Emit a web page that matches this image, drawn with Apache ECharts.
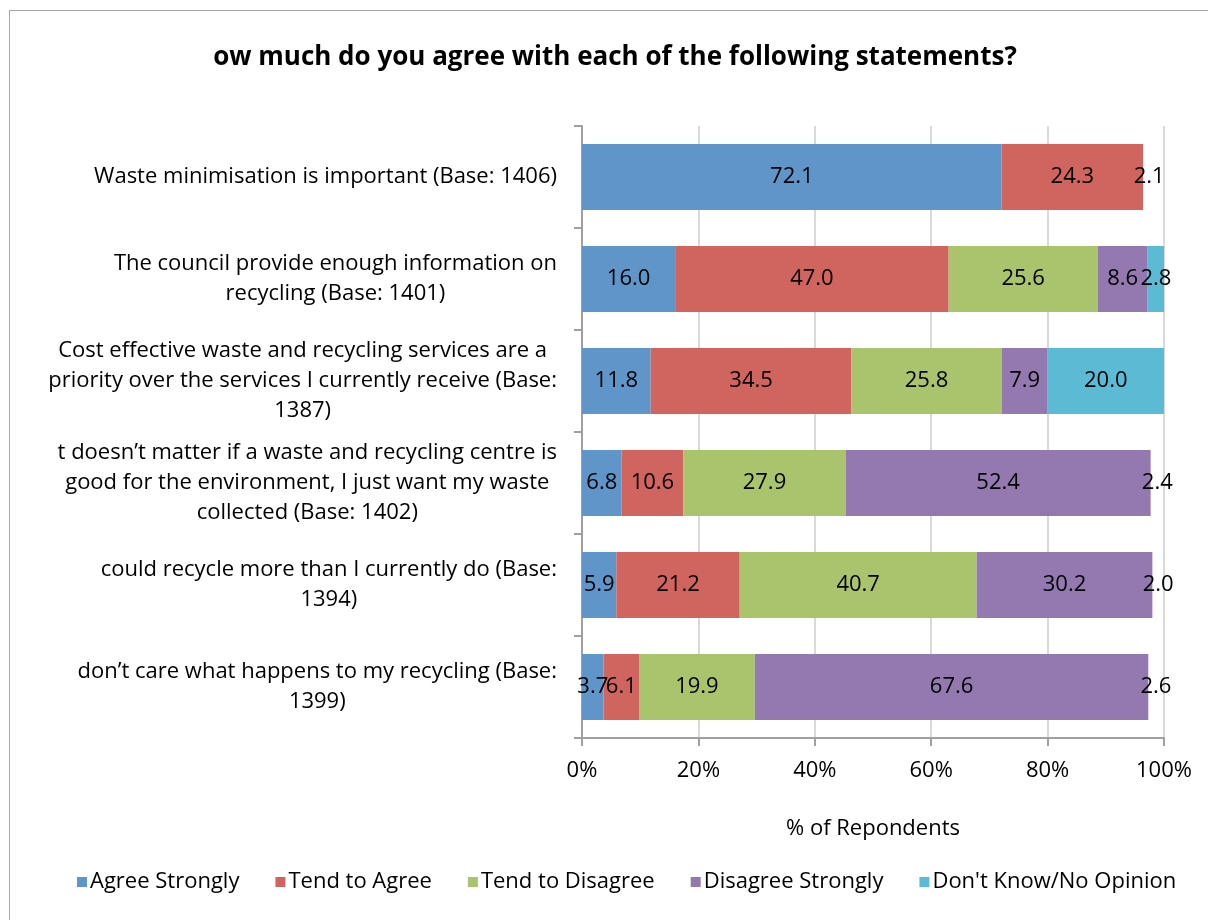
<!DOCTYPE html>
<html>
<head>
<meta charset="utf-8">
<script src="https://cdn.jsdelivr.net/npm/echarts@6/dist/echarts.min.js"></script>
<style>
  html, body { margin: 0; padding: 0; background: #fff; }
  #frame { position: absolute; left: 9px; top: 10px; width: 1220px; height: 940px; border: 1px solid #a6a6a6; }
  #chart { position: absolute; left: 0; top: 0; width: 1208px; height: 920px; }
</style>
</head>
<body>
<div id="frame"></div>
<div id="chart"></div>
<script>
// statements, top to bottom
const categories = [
  "Waste minimisation is important (Base: 1406)",
  "The council provide enough information on\nrecycling (Base: 1401)",
  "Cost effective waste and recycling services are a\npriority over the services I currently receive (Base:\n1387)",
  "t doesn’t matter if a waste and recycling centre is\ngood for the environment, I just want my waste\ncollected (Base: 1402)",
  "could recycle more than I currently do (Base:\n1394)",
  "don’t care what happens to my recycling (Base:\n1399)"
];
const seriesNames = ["Agree Strongly", "Tend to Agree", "Tend to Disagree", "Disagree Strongly", "Don't Know/No Opinion"];
const agreeStrongly = [72.1, 16.0, 11.8, 6.8, 5.9, 3.7];
const tendToAgree = [24.3, 47.0, 34.5, 10.6, 21.2, 6.1];
const tendToDisagree = [2.1, 25.6, 25.8, 27.9, 40.7, 19.9];
const disagreeStrongly = [null, 8.6, 7.9, 52.4, 30.2, 67.6];
const dontKnow = [null, 2.8, 20.0, 2.4, 2.0, 2.6];
const xTicks = ["0%", "20%", "40%", "60%", "80%", "100%"];

const colors = ["#5f95c9", "#d0655f", "#a9c46c", "#9479b1", "#5bbad4"];
// segments drawn without fill in the original (series index, row index)
const unfilled = [[2, 0], [4, 3], [4, 4], [4, 5]];

const font = "'Open Sans', 'Noto Sans', sans-serif";
const fs = 22;
const values = [agreeStrongly, tendToAgree, tendToDisagree, disagreeStrongly, dontKnow];

// categories go bottom-up on a horizontal bar chart, so reverse
const cats = categories.slice().reverse();
const series = values.map((arr, s) => ({
  name: seriesNames[s],
  type: "bar",
  stack: "total",
  barWidth: 66,
  itemStyle: { color: colors[s] },
  label: {
    show: true,
    position: "inside",
    color: "#000",
    fontSize: fs,
    fontFamily: font,
    formatter: p => (p.value == null ? "" : Number(p.value).toFixed(1))
  },
  data: arr.map((v, i) => {
    const hidden = unfilled.some(u => u[0] === s && u[1] === i);
    return hidden ? { value: v, itemStyle: { color: "rgba(0,0,0,0)" } } : v;
  }).reverse()
}));

const chart = echarts.init(document.getElementById("chart"));
chart.setOption({
  animation: false,
  title: {
    text: "ow much do you agree with each of the following statements?",
    left: 610,
    top: 40,
    textAlign: "center",
    textStyle: { fontSize: 26, fontWeight: "bold", fontFamily: font, color: "#000" }
  },
  color: colors,
  legend: {
    bottom: 22,
    left: 72,
    itemWidth: 10,
    itemHeight: 10,
    itemGap: 36,
    icon: "rect",
    selectedMode: false,
    textStyle: { fontSize: fs, fontFamily: font, color: "#000", padding: [0, 0, 0, -2] },
    data: seriesNames
  },
  grid: { left: 582, right: 44, top: 126, bottom: 182, containLabel: false },
  xAxis: {
    type: "value",
    min: 0,
    max: 100,
    interval: 20,
    name: "% of Repondents",
    nameLocation: "middle",
    nameGap: 80,
    nameTextStyle: { fontSize: fs, fontFamily: font, color: "#000" },
    axisLine: { show: true, lineStyle: { color: "#a0a0a0", width: 2 } },
    axisTick: { show: true, length: 8, lineStyle: { color: "#a0a0a0", width: 2 } },
    splitLine: { show: true, lineStyle: { color: "#d9d9d9", width: 2 } },
    axisLabel: {
      margin: 22,
      fontSize: fs,
      fontFamily: font,
      color: "#000",
      formatter: v => xTicks[v / 20]
    }
  },
  yAxis: {
    type: "category",
    data: cats,
    axisLine: { show: true, lineStyle: { color: "#a0a0a0", width: 2 } },
    axisTick: { show: true, length: 8, lineStyle: { color: "#a0a0a0", width: 2 } },
    axisLabel: {
      margin: 25,
      align: "right",
      fontSize: fs,
      fontFamily: font,
      color: "#000",
      lineHeight: 30,
      formatter: v => v.split("\n").map(l => "{c|" + l + "}").join("\n"),
      rich: { c: { align: "center", fontSize: fs, fontFamily: font, color: "#000", lineHeight: 30 } }
    }
  },
  series: series
});
</script>
</body>
</html>
